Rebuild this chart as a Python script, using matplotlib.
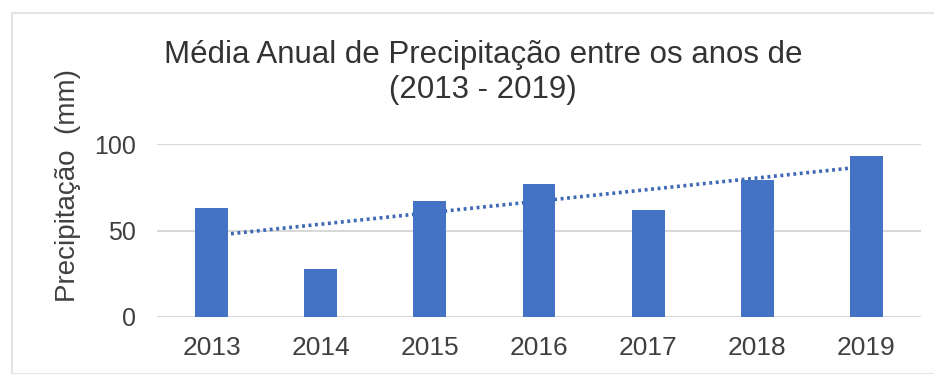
import numpy as np
import matplotlib
matplotlib.use("Agg")
import matplotlib.pyplot as plt
from matplotlib.patches import Rectangle

anos = ["2013", "2014", "2015", "2016", "2017", "2018", "2019"]
precipitacao = [63, 28, 67, 77, 62, 79, 93]
yticks = [0, 50, 100]

titulo = "Média Anual de Precipitação entre os anos de\n(2013 - 2019)"
rotulo_y = "Precipitação  (mm)"

plt.rcParams["font.family"] = ["Liberation Sans", "DejaVu Sans"]

W, H = 934, 374
fig = plt.figure(figsize=(W / 100, H / 100), dpi=100)

# light frame around the chart area
fig.patches.append(Rectangle((12 / W, 0), 1.0, 1 - 13 / H, transform=fig.transFigure,
                             fill=False, edgecolor="#e4e4e4", linewidth=1.5))

ax = fig.add_axes([157 / W, 1 - 317 / H, (921 - 157) / W, (317 - 144) / H])
x = np.arange(len(anos))
ax.bar(x, precipitacao, width=0.30, color="#4472C4", zorder=3)

# linear trend line
coef = np.polyfit(x, precipitacao, 1)
ax.plot(x, np.polyval(coef, x), linestyle=(0, (0.8, 1.0)), color="#3F68B5",
        linewidth=2.6, zorder=2)

ax.set_xlim(-0.5, len(anos) - 0.5)
ax.set_ylim(0, 100)
ax.set_yticks(yticks)
ax.set_xticks(x)
ax.set_xticklabels(anos)
ax.grid(axis="y", color="#d9d9d9", linewidth=1.5, zorder=0)
ax.set_axisbelow(True)
for s in ax.spines.values():
    s.set_visible(False)
ax.tick_params(length=0, colors="#404040")
ax.tick_params(axis="y", labelsize=18, pad=15)
ax.tick_params(axis="x", labelsize=19, pad=14)

fig.text(68 / W, 1 - 186 / H, rotulo_y, rotation=90, ha="center", va="center",
         fontsize=20, color="#404040")
fig.text(483 / W, 1 - 63 / H, titulo.split("\n")[0], ha="center", va="baseline",
         fontsize=22.5, color="#333333")
fig.text(483 / W, 1 - 98 / H, titulo.split("\n")[1], ha="center", va="baseline",
         fontsize=22.5, color="#333333")

fig.savefig("out.png", dpi=100, facecolor="white")
